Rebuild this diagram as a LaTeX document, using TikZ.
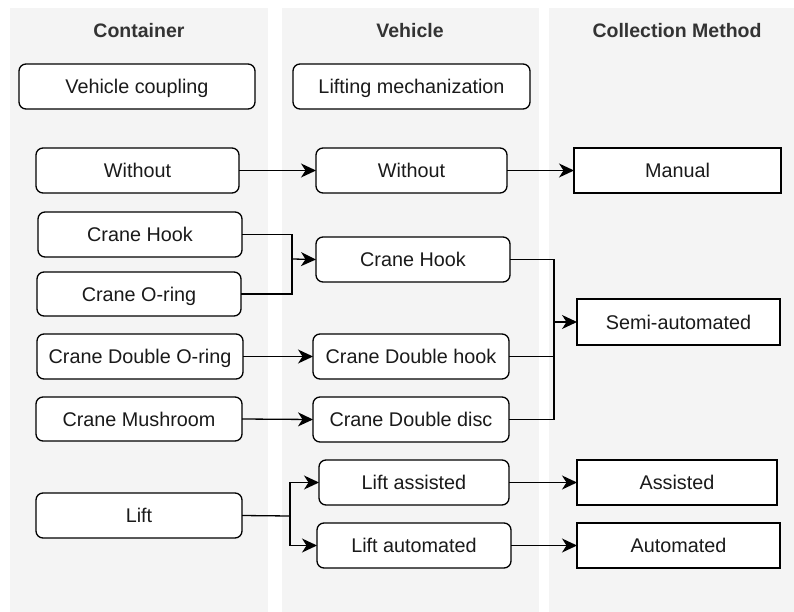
\documentclass[tikz,border=0pt]{standalone}
\usepackage{fontspec}
\setmainfont{Liberation Sans}
\usetikzlibrary{arrows.meta}
\definecolor{lanebg}{HTML}{F4F4F4}
\definecolor{headtext}{HTML}{333333}
\definecolor{boxtext}{HTML}{1A1A1A}
\tikzset{
  lane/.style={fill=lanebg, draw=none},
  head/.style={font=\bfseries\fontsize{19.5}{22}\selectfont, text=headtext, anchor=base},
  rbox/.style={draw=black, line width=1.3pt, fill=white, rounded corners=7pt},
  sbox/.style={draw=black, line width=1.3pt, fill=white},
  boxlabel/.style={text=boxtext, font=\fontsize{19.8}{22}\selectfont, inner sep=0pt, anchor=base},
  link/.style={draw=black, line width=1.3pt, -{Stealth[length=15pt,width=14pt,inset=4.5pt]}},
  wire/.style={draw=black, line width=1.3pt},
}
% boxes given by corner pixels: (x1,y1) to (x2,y2)
\newcommand{\rboxat}[6]{\path[rbox] (#2,#3) rectangle (#4,#5);
  \node[boxlabel] (#1) at ({(#2+#4)/2},{(#3+#5)/2+7}) {#6};
  \coordinate (#1-w) at (#2,{(#3+#5)/2}); \coordinate (#1-e) at (#4,{(#3+#5)/2});}
\newcommand{\sboxat}[6]{\path[sbox] (#2,#3) rectangle (#4,#5);
  \node[boxlabel] (#1) at ({(#2+#4)/2},{(#3+#5)/2+7}) {#6};
  \coordinate (#1-w) at (#2,{(#3+#5)/2}); \coordinate (#1-e) at (#4,{(#3+#5)/2});}
\begin{document}
\begin{tikzpicture}[x=1pt, y=-1pt]
\useasboundingbox (0,0) rectangle (794,612);
\fill[white] (0,0) rectangle (794,612);

% lanes
\path[lane] (10,8) rectangle (268,612);
\path[lane] (282,8) rectangle (539,612);
\path[lane] (549,8) rectangle (794,612);

% lane headings
\node[head] (hcont) at (139,38) {Container};
\node[head] (hveh) at (410,38) {Vehicle};
\node[head] (hcoll) at (677,38) {Collection Method};

% category boxes
\rboxat{cat1}{19}{64}{255}{109}{Vehicle coupling}
\rboxat{cat2}{293}{64}{530}{109}{Lifting mechanization}

% container column
\rboxat{cwo}{36}{148}{239}{193}{Without}
\rboxat{chook}{38}{212}{242}{257}{Crane Hook}
\rboxat{coring}{37}{272}{241}{316}{Crane O-ring}
\rboxat{cdoring}{37}{334}{243}{379}{Crane Double O-ring}
\rboxat{cmush}{36}{397}{242}{441}{Crane Mushroom}
\rboxat{clift}{36}{493}{242}{538}{Lift}

% vehicle column
\rboxat{vwo}{316}{148}{507}{193}{Without}
\rboxat{vhook}{316}{237}{510}{282}{Crane Hook}
\rboxat{vdhook}{313}{334}{509}{379}{Crane Double hook}
\rboxat{vddisc}{313}{397}{509}{442}{Crane Double disc}
\rboxat{vlassist}{319}{460}{509}{505}{Lift assisted}
\rboxat{vlauto}{317}{523}{511}{568}{Lift automated}

% collection method column
\sboxat{mman}{574}{148}{781}{193}{Manual}
\sboxat{msemi}{577}{299}{780}{345}{Semi-automated}
\sboxat{massist}{577}{460}{777}{505}{Assisted}
\sboxat{mauto}{577}{523}{780}{568}{Automated}

% junction points
\coordinate (j1) at (292,259);
\coordinate (j2) at (554,322);
\coordinate (j3) at (290,516);

% connectors
\draw[link] (cwo-e) -- (vwo-w);
\draw[link] (vwo-e) -- (mman-w);

\draw[wire] (chook-e) -| (j1);
\draw[wire] (coring-e) -| (j1);
\draw[link] (j1) -- (vhook-w);

\draw[link] (cdoring-e) -- (vdhook-w);
\draw[link] (cmush-e) -- (vddisc-w);

\draw[wire] (vhook-e) -| (j2);
\draw[wire] (vdhook-e) -| (j2);
\draw[wire] (vddisc-e) -| (j2);
\draw[link] (j2) -- (msemi-w);

\draw[wire] (clift-e) -- (j3);
\draw[link] (j3) |- (vlassist-w);
\draw[link] (j3) |- (vlauto-w);

\draw[link] (vlassist-e) -- (massist-w);
\draw[link] (vlauto-e) -- (mauto-w);
\end{tikzpicture}
\end{document}
